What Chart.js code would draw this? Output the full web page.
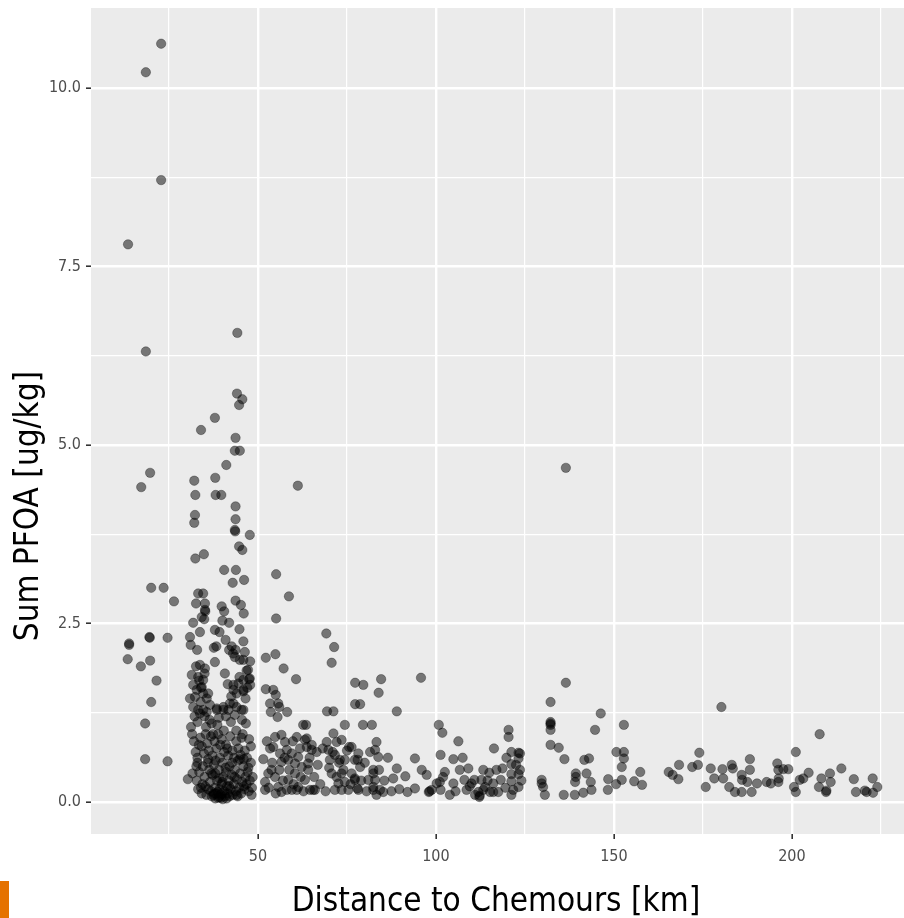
<!DOCTYPE html>
<html>
<head>
<meta charset="utf-8">
<script src="https://cdn.jsdelivr.net/npm/chart.js@4.4.1/dist/chart.umd.min.js"></script>
<style>
html, body { margin: 0; padding: 0; background: #fff; }
#wrap { position: relative; width: 904px; height: 918px; }
#mark { position: absolute; left: 0; top: 881px; width: 9px; height: 37px; background: #e57200; }
</style>
</head>
<body>
<div id="wrap">
  <canvas id="cv_scatter" width="904" height="918"></canvas>
  <div id="mark"></div>
</div>
<script>
// values (km, ug/kg)
const distanceKm = [
  22.8, 18.5, 22.8, 13.5, 18.5, 44.2, 44.1, 45.6, 44.7, 37.9, 34.0, 43.7, 43.5, 44.9, 41.1, 19.7, 17.2, 61.2, 136.5, 32.1,
  38.0, 32.4, 38.1, 39.7, 43.7, 43.7, 43.5, 43.6, 47.7, 32.3, 32.1, 44.7, 45.6, 32.4, 34.8, 40.5, 43.8, 42.9, 46.1, 20.0,
  23.5, 26.4, 55.1, 58.7, 55.1, 32.6, 35.1, 34.6, 33.2, 35.2, 34.9, 43.7, 45.2, 46.0, 39.8, 40.5, 40.0, 41.9, 31.8, 33.7,
  30.9, 31.1, 32.9, 37.9, 39.2, 38.3, 37.6, 40.9, 42.6, 43.7, 43.0, 41.9, 45.9, 44.8, 46.3, 47.8, 46.8, 47.5, 13.8, 13.8,
  19.5, 19.6, 24.6, 13.4, 17.1, 19.7, 21.5, 20.0, 18.3, 18.3, 24.6, 30.3,
  52.2, 54.9, 57.2, 60.7, 52.2, 54.3, 55.0, 53.4, 55.7, 53.6, 56.0, 58.2, 55.5, 69.2, 71.4, 70.7, 77.3, 79.6, 84.6, 83.9,
  95.8, 77.3, 78.7, 89.0, 69.4, 71.2, 62.7, 63.5, 74.4, 79.5, 82.0, 100.8, 101.8, 106.3, 120.4, 120.4, 116.3, 123.2, 123.2, 121.2,
  94.1, 96.0, 97.4, 101.3, 104.9, 89.0, 88.0, 91.4, 89.7, 92.0, 94.1, 98.0, 98.2, 101.1, 101.3, 103.9, 106.7, 108.0, 109.1, 110.8,
  112.2, 112.3, 111.0, 113.3, 115.0, 115.2, 117.5, 118.2, 118.7, 121.2, 121.2, 121.2, 121.2, 123.2, 123.2,
  136.5, 132.2, 132.2, 132.2, 132.2, 132.2, 132.2, 134.5, 136.1, 146.3, 144.7, 152.8, 150.7, 152.8, 152.8, 152.2, 148.4, 150.6, 152.2, 155.7,
  157.4, 157.9, 148.3, 141.7, 143.0, 139.3, 139.3, 139.1, 142.3, 143.5, 143.7, 141.4, 139.0, 135.9, 130.6, 129.7, 129.7, 130.1, 123.6, 123.6,
  165.4, 166.5, 168.1, 168.3, 172.0, 173.6, 174.0, 175.8, 177.2, 178.2, 180.5, 180.7, 182.4, 183.1, 183.4, 185.9, 186.0, 184.0, 185.9, 188.2,
  188.2, 187.5, 188.7, 190.2, 192.9, 194.1, 195.9, 196.2, 196.3, 196.2, 197.6, 199.0, 201.1, 200.6, 201.1, 202.2, 203.2, 204.7, 207.8, 207.6,
  208.3, 209.6, 209.7, 210.7, 210.9, 213.9, 217.4, 218.0, 220.5, 221.0, 222.7, 222.8, 224.0, 180.2,
  32.3, 34.6, 35.6, 31.8, 33.2, 34.6, 36.5, 38.4, 40.3, 41.7, 43.1, 44.0, 45.4, 45.9, 32.6, 33.7, 35.1, 31.4, 33.2, 34.6,
  31.8, 32.8, 34.2, 30.9, 37.9, 40.7, 43.1, 44.5, 45.9, 42.1, 44.0, 45.9, 38.4, 40.3, 35.6, 33.7, 36.0, 34.0, 35.0, 41.5,
  42.5, 44.8, 46.5, 47.0, 37.0, 39.0, 41.0, 43.5, 45.5, 33.0, 35.0, 43.5, 45.9, 47.2, 47.7, 47.8, 45.9, 43.1, 44.9, 34.2, 35.1,
  31.5, 32.0, 32.5, 33.0, 33.8, 34.2, 34.8, 35.3, 35.8, 36.2, 36.8, 37.2, 37.8, 38.3, 38.8, 39.3, 39.8, 40.5, 41.0, 41.6,
  42.2, 42.8, 43.3, 43.9, 44.5, 45.1, 45.7, 46.3, 46.9, 47.5, 48.0,
  33.0, 33.5, 32.8, 33.2, 34.2, 34.5, 35.0, 35.2, 35.5, 36.0, 36.3, 36.5, 36.8, 37.0, 37.3, 37.6, 37.9, 38.2, 38.5, 38.8,
  39.0, 39.2, 39.5, 39.8, 40.0, 40.2, 40.5, 40.8, 41.0, 41.3, 41.5, 41.8, 42.0, 42.3, 42.6, 42.9, 43.2, 43.5, 43.8, 44.1,
  44.4, 44.7, 45.0, 45.3, 45.6, 45.9, 46.2, 46.5, 46.8, 47.1, 47.4, 47.7, 48.0, 38.0, 39.1, 40.1, 37.5, 38.7, 39.6, 41.2,
  48.3, 48.5, 48.2,
  31.2, 31.6, 32.2, 32.7, 33.4, 33.9, 34.4, 35.4, 35.9, 36.4, 36.9, 37.4, 37.7, 38.1, 38.6, 39.1, 39.4, 39.9, 40.4, 40.9,
  41.4, 41.9, 42.4, 42.7, 43.4, 43.9, 44.3, 44.9, 45.4, 46.0, 46.6, 47.3, 34.0, 36.0, 38.0, 40.0, 42.0, 44.0, 46.0, 33.5,
  54.8, 56.6, 54.3, 53.4, 57.6, 58.1, 56.2, 56.6, 58.5, 59.5, 60.9, 61.3, 63.2, 63.7, 65.1, 66.5, 62.3, 64.1, 52.9, 52.0,
  52.0, 54.8, 55.7, 56.6, 58.5, 59.5, 60.4, 61.3, 63.2, 64.1, 64.6, 66.0, 60.9, 58.1, 53.8, 60.4, 65.5, 63.7, 65.1,
  51.5, 52.5, 53.0, 54.0, 55.0, 56.0, 57.0, 57.5, 58.8, 59.8, 60.0, 61.8, 62.0, 62.8, 64.5, 65.8, 66.8, 67.5, 68.2, 69.0,
  70.0, 71.0, 72.8, 74.0, 75.0, 76.0, 79.0, 80.0, 80.5, 81.5, 84.0, 85.5, 86.5, 87.5,
  69.3, 69.8, 70.2, 71.2, 72.1, 73.5, 71.6, 73.0, 74.4, 76.3, 77.2, 78.2, 78.7, 76.3, 77.2, 78.2, 70.7, 72.1, 73.5, 72.6,
  74.4, 75.4, 71.6, 73.5, 82.4, 82.4, 83.3, 82.9, 83.8, 82.4, 82.9, 82.4, 84.3, 85.2, 83.3, 81.0, 75.6, 78.0, 77.2, 77.9,
  100.2, 98.8, 102.5, 104.9, 108.6, 110.0, 112.8, 113.8, 116.1, 116.1, 113.3, 111.9, 121.7,
  102.0, 105.5, 107.5, 109.5, 114.5, 117.0, 119.5, 122.5, 124.0, 119.8
];
const sumPfoa = [
  10.62, 10.22, 8.71, 7.81, 6.31, 6.57, 5.72, 5.64, 5.56, 5.38, 5.21, 5.10, 4.92, 4.92, 4.72, 4.61, 4.41, 4.43, 4.68, 4.50,
  4.54, 4.30, 4.30, 4.30, 4.14, 3.96, 3.81, 3.79, 3.74, 4.02, 3.91, 3.58, 3.53, 3.41, 3.47, 3.25, 3.25, 3.07, 3.11, 3.00,
  3.00, 2.81, 3.19, 2.88, 2.57, 2.78, 2.78, 2.92, 2.92, 2.67, 2.56, 2.82, 2.76, 2.64, 2.74, 2.67, 2.54, 2.51, 2.51, 2.38,
  2.31, 2.20, 2.13, 2.41, 2.38, 2.18, 2.16, 2.27, 2.18, 2.13, 2.08, 2.13, 2.25, 2.42, 2.10, 1.97, 1.84, 1.72, 2.20, 2.22,
  2.31, 2.30, 2.30, 2.00, 1.90, 1.98, 1.70, 1.40, 1.10, 0.60, 0.57, 0.32,
  2.02, 2.07, 1.87, 1.72, 1.58, 1.57, 1.50, 1.38, 1.38, 1.26, 1.33, 1.26, 1.19, 2.36, 2.17, 1.95, 1.67, 1.64, 1.72, 1.53,
  1.74, 1.37, 1.37, 1.27, 1.27, 1.27, 1.08, 1.08, 1.08, 1.08, 1.08, 1.08, 0.97, 0.85, 1.01, 0.91, 0.75, 0.69, 0.61, 0.70,
  0.61, 0.45, 0.38, 0.66, 0.60, 0.47, 0.33, 0.36, 0.18, 0.14, 0.19, 0.14, 0.15, 0.28, 0.17, 0.10, 0.45, 0.31, 0.47, 0.31,
  0.07, 0.09, 0.10, 0.45, 0.41, 0.14, 0.14, 0.31, 0.47, 0.53, 0.39, 0.29, 0.10, 0.39, 0.21,
  1.67, 1.40, 1.12, 1.10, 1.08, 1.01, 0.80, 0.76, 0.60, 1.24, 1.01, 1.08, 0.70, 0.70, 0.61, 0.49, 0.32, 0.25, 0.31, 0.29,
  0.42, 0.24, 0.17, 0.59, 0.61, 0.40, 0.35, 0.28, 0.40, 0.28, 0.17, 0.13, 0.10, 0.10, 0.10, 0.31, 0.26, 0.21, 0.68, 0.45,
  0.42, 0.38, 0.32, 0.52, 0.49, 0.52, 0.69, 0.21, 0.47, 0.33, 0.46, 0.33, 0.21, 0.52, 0.47, 0.38, 0.31, 0.14, 0.14, 0.60,
  0.45, 0.28, 0.14, 0.26, 0.28, 0.26, 0.54, 0.45, 0.33, 0.28, 0.46, 0.46, 0.70, 0.21, 0.14, 0.31, 0.33, 0.41, 0.95, 0.21,
  0.33, 0.14, 0.16, 0.40, 0.28, 0.47, 0.32, 0.14, 0.16, 0.14, 0.33, 0.13, 0.21, 1.33,
  1.47, 1.52, 1.45, 1.33, 1.29, 1.29, 1.36, 1.31, 1.29, 1.29, 1.38, 1.52, 1.29, 1.55, 1.90, 1.92, 1.87, 1.78, 1.75, 1.71,
  1.64, 1.57, 1.61, 1.45, 1.96, 1.80, 1.57, 1.66, 1.57, 1.38, 1.33, 1.29, 1.29, 1.33, 1.26, 1.24, 1.52, 1.60, 1.80, 1.65,
  1.48, 1.75, 1.45, 1.60, 1.10, 1.18, 1.20, 1.22, 1.15, 1.12, 1.20, 2.03, 1.99, 1.85, 1.73, 1.64, 1.71, 1.64, 1.99, 2.59, 2.69,
  0.95, 0.85, 0.70, 0.62, 0.90, 0.78, 0.68, 0.95, 0.82, 0.72, 0.92, 0.65, 0.85, 0.75, 0.95, 0.62, 0.88, 0.70, 0.80, 0.65,
  0.92, 0.72, 0.62, 0.85, 0.75, 0.66, 0.95, 0.72, 0.62, 0.88, 0.78,
  0.55, 0.42, 0.30, 0.18, 0.12, 0.50, 0.35, 0.22, 0.10, 0.60, 0.45, 0.28, 0.15, 0.08, 0.38, 0.52, 0.20, 0.12, 0.30, 0.06,
  0.45, 0.18, 0.10, 0.25, 0.55, 0.35, 0.15, 0.08, 0.42, 0.22, 0.12, 0.30, 0.50, 0.18, 0.38, 0.10, 0.25, 0.45, 0.15, 0.32,
  0.58, 0.20, 0.40, 0.12, 0.28, 0.50, 0.18, 0.35, 0.25, 0.42, 0.15, 0.30, 0.55, 0.05, 0.07, 0.04, 0.10, 0.14, 0.06, 0.05,
  0.20, 0.35, 0.10,
  1.05, 0.40, 1.20, 0.50, 0.80, 1.40, 0.25, 1.05, 0.55, 1.15, 0.40, 0.95, 0.12, 0.58, 1.08, 0.33, 0.80, 0.12, 1.00, 0.48,
  0.75, 0.22, 1.12, 0.55, 0.35, 1.00, 0.08, 0.60, 0.90, 0.22, 1.10, 0.48, 0.20, 0.18, 0.40, 0.28, 0.08, 0.10, 0.60, 1.70,
  0.91, 0.94, 0.77, 0.75, 0.84, 0.73, 0.68, 0.56, 0.59, 0.68, 0.91, 0.63, 0.87, 0.77, 0.73, 0.70, 0.49, 0.54, 0.40, 0.28,
  0.17, 0.35, 0.21, 0.14, 0.31, 0.17, 0.40, 0.21, 0.31, 0.45, 0.17, 0.17, 0.17, 0.17, 0.45, 0.54, 0.17, 0.89, 0.80,
  0.60, 0.85, 0.20, 0.55, 0.12, 0.45, 0.30, 0.62, 0.45, 0.85, 0.25, 0.75, 0.35, 0.15, 0.62, 0.35, 0.52, 0.25, 0.75, 0.15,
  0.48, 0.70, 0.55, 0.45, 0.72, 0.25, 0.30, 0.55, 0.15, 0.70, 0.45, 0.30, 0.62, 0.15,
  0.84, 0.73, 0.59, 0.96, 0.84, 0.87, 0.66, 0.59, 0.59, 0.77, 0.59, 0.68, 0.49, 0.40, 0.31, 0.17, 0.40, 0.35, 0.40, 0.26,
  0.28, 0.17, 0.17, 0.17, 0.40, 0.21, 0.84, 0.73, 0.63, 0.45, 0.31, 0.17, 0.17, 0.14, 0.10, 0.31, 0.77, 0.59, 0.33, 0.19,
  0.26, 0.17, 0.42, 0.26, 0.17, 0.26, 0.31, 0.21, 0.26, 0.14, 0.17, 0.14, 0.17,
  0.35, 0.15, 0.62, 0.22, 0.30, 0.45, 0.20, 0.52, 0.30, 0.62
];

const xTicks = [25, 50, 75, 100, 125, 150, 175, 200, 225];
const xLabels = [50, 100, 150, 200];
const yTicks = [0, 1.25, 2.5, 3.75, 5, 6.25, 7.5, 8.75, 10];
const yLabels = [0, 2.5, 5, 7.5, 10];
const xTitle = 'Distance to Chemours [km]';
const yTitle = 'Sum PFOA [ug/kg]';

const tickFont = { family: '"Liberation Sans Narrow", "DejaVu Sans Condensed", sans-serif', size: 16 };
const titleFont = '33px "DejaVu Sans Condensed", "DejaVu Sans", sans-serif';

// grey panel + axis titles
const ggPanel = {
  id: 'ggPanel',
  beforeDraw(chart) {
    const { ctx, chartArea: a } = chart;
    ctx.save();
    ctx.fillStyle = '#ebebeb';
    ctx.fillRect(a.left, a.top, a.right - a.left, a.bottom - a.top);
    ctx.restore();
  },
  afterDraw(chart) {
    const ctx = chart.ctx;
    ctx.save();
    ctx.fillStyle = '#000';
    ctx.font = titleFont;
    ctx.textAlign = 'center';
    ctx.textBaseline = 'alphabetic';
    ctx.fillText(xTitle, 496, 911);
    ctx.translate(38, 506);
    ctx.rotate(-Math.PI / 2);
    ctx.fillText(yTitle, 0, 0);
    ctx.restore();
  }
};

const isLabel = (list, v) => list.some(l => Math.abs(l - v) < 1e-9);

const chart_01 = new Chart(document.getElementById('cv_scatter').getContext('2d'), {
  type: 'scatter',
  data: {
    datasets: [{
      data: distanceKm.map((d, i) => ({ x: d, y: sumPfoa[i] })),
      backgroundColor: 'rgba(0,0,0,0.5)',
      borderColor: 'rgba(0,0,0,0.3)',
      borderWidth: 1,
      pointRadius: 4.7,
      pointHoverRadius: 4.7
    }]
  },
  options: {
    responsive: false,
    animation: false,
    events: [],
    layout: { autoPadding: false, padding: { top: 8, left: 0, right: 0, bottom: 0 } },
    plugins: { legend: { display: false }, tooltip: { enabled: false } },
    scales: {
      x: {
        type: 'linear',
        min: 3.09,
        max: 231.5,
        afterBuildTicks: s => { s.ticks = xTicks.map(v => ({ value: v })); },
        afterFit: s => { s.height = 84; s.paddingLeft = 0; s.paddingRight = 0; },
        border: { display: false },
        grid: {
          color: '#ffffff',
          lineWidth: c => (c.tick && isLabel(xLabels, c.tick.value)) ? 2.4 : 1.2,
          tickLength: 5,
          tickWidth: 1.6,
          tickColor: c => (c.tick && isLabel(xLabels, c.tick.value)) ? '#333333' : 'rgba(0,0,0,0)'
        },
        ticks: {
          autoSkip: false,
          maxRotation: 0,
          padding: 8,
          color: '#4d4d4d',
          font: tickFont,
          callback: v => isLabel(xLabels, v) ? String(v) : ''
        }
      },
      y: {
        type: 'linear',
        min: -0.448,
        max: 11.12,
        afterBuildTicks: s => { s.ticks = yTicks.map(v => ({ value: v })); },
        afterFit: s => { s.width = 91; s.paddingTop = 0; s.paddingBottom = 0; },
        border: { display: false },
        grid: {
          color: '#ffffff',
          lineWidth: c => (c.tick && isLabel(yLabels, c.tick.value)) ? 2.4 : 1.2,
          tickLength: 5,
          tickWidth: 1.6,
          tickColor: c => (c.tick && isLabel(yLabels, c.tick.value)) ? '#333333' : 'rgba(0,0,0,0)'
        },
        ticks: {
          autoSkip: false,
          padding: 5,
          color: '#4d4d4d',
          font: tickFont,
          callback: v => isLabel(yLabels, v) ? v.toFixed(1) : ''
        }
      }
    }
  },
  plugins: [ggPanel]
});
</script>
</body>
</html>
